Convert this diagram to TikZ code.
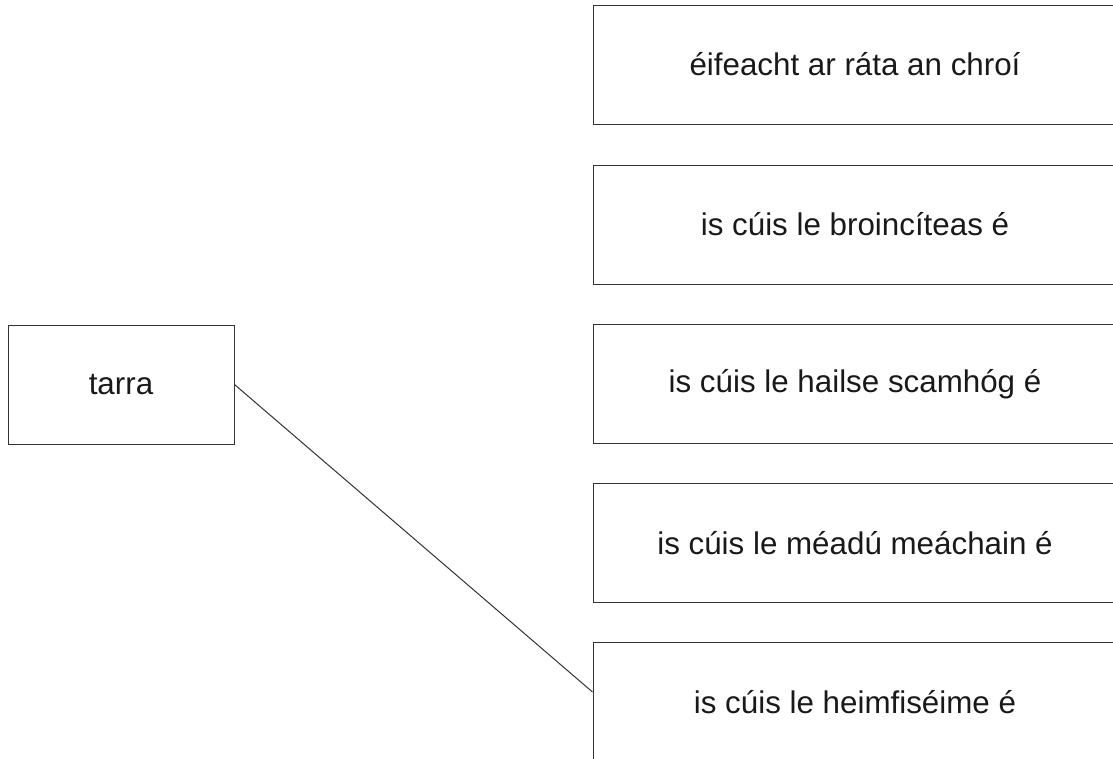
\documentclass[tikz,border=0pt]{standalone}
\usepackage{fontspec}
\setmainfont{Liberation Sans}
\usepackage{tikz}

\begin{document}
\begin{tikzpicture}[x=0.75pt, y=-0.75pt, line width=0.75pt, draw=black!80,
  every node/.style={draw=black!80, rectangle, inner sep=0pt, text=black!90, font=\fontsize{23.5}{28}\selectfont},
  answer/.style={minimum width=393pt, minimum height=89.25pt},
  term/.style={minimum width=169.5pt, minimum height=89.25pt}]
  \useasboundingbox (0,0) rectangle (1113,758);
  \clip (0,0) rectangle (1113,758);
  \node[term] (tarra) at (121,384.5) {tarra};
  \node[answer] (a1) at (855,64.5) {éifeacht ar ráta an chroí};
  \node[answer] (a2) at (855,224.5) {is cúis le broincíteas é};
  \node[answer] (a3) at (855,384) {is cúis le hailse scamhóg é};
  \node[answer] (a4) at (855,543) {is cúis le méadú meáchain é};
  \node[answer] (a5) at (855,702) {is cúis le heimfiséime é};
  \draw (tarra.east) -- ([yshift=-37.5pt]a5.north west);
\end{tikzpicture}
\end{document}
